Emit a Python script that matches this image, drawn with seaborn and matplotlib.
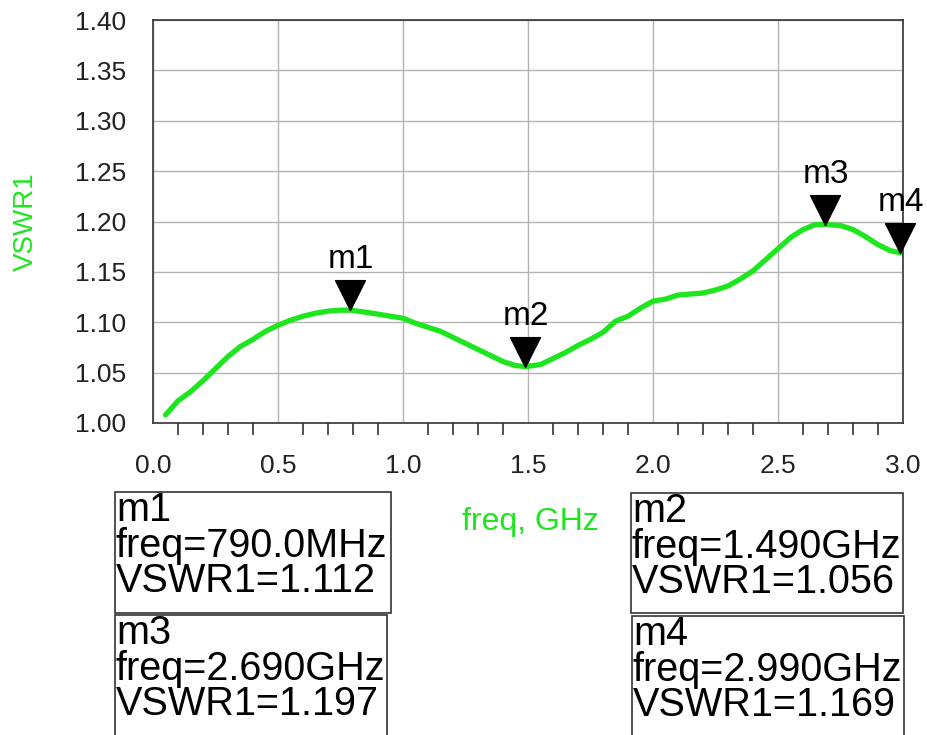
import seaborn as sns
import matplotlib.pyplot as plt
import matplotlib.patches as patches
import pandas as pd
from matplotlib.ticker import MultipleLocator

# --- data ---
freq = [0.05, 0.10, 0.15, 0.20, 0.25, 0.30, 0.35, 0.40, 0.45, 0.50,
        0.55, 0.60, 0.65, 0.70, 0.75, 0.79, 0.85, 0.90, 0.95, 1.00,
        1.05, 1.10, 1.15, 1.20, 1.25, 1.30, 1.35, 1.40, 1.45, 1.49,
        1.55, 1.60, 1.65, 1.70, 1.75, 1.80, 1.85, 1.90, 1.95, 2.00,
        2.05, 2.10, 2.15, 2.20, 2.25, 2.30, 2.35, 2.40, 2.45, 2.50,
        2.55, 2.60, 2.65, 2.69, 2.75, 2.80, 2.85, 2.90, 2.95, 2.99]
vswr = [1.008, 1.022, 1.031, 1.042, 1.054, 1.066, 1.076, 1.083, 1.091, 1.097,
        1.102, 1.106, 1.109, 1.111, 1.112, 1.112, 1.110, 1.108, 1.106, 1.104,
        1.099, 1.095, 1.091, 1.085, 1.079, 1.073, 1.067, 1.061, 1.057, 1.056,
        1.058, 1.064, 1.070, 1.077, 1.083, 1.090, 1.101, 1.106, 1.114, 1.121,
        1.123, 1.127, 1.128, 1.129, 1.132, 1.136, 1.143, 1.151, 1.162, 1.173,
        1.184, 1.192, 1.197, 1.197, 1.196, 1.192, 1.185, 1.177, 1.171, 1.169]

marker_names = ['m1', 'm2', 'm3', 'm4']
marker_freq = [0.79, 1.49, 2.69, 2.99]
marker_vswr = [1.112, 1.056, 1.197, 1.169]
marker_freq_text = ['790.0MHz', '1.490GHz', '2.690GHz', '2.990GHz']

y_ticks = [1.00, 1.05, 1.10, 1.15, 1.20, 1.25, 1.30, 1.35, 1.40]
x_ticks = [0.0, 0.5, 1.0, 1.5, 2.0, 2.5, 3.0]

df = pd.DataFrame({'freq': freq, 'VSWR1': vswr})

sns.set_style("white")
plt.rcParams['font.family'] = ['Liberation Sans', 'DejaVu Sans']

green = '#1ee61e'
fig = plt.figure(figsize=(9.28, 7.35), dpi=100)
ax = fig.add_axes([153 / 928, 1 - 423 / 735, 750 / 928, 403 / 735])

sns.lineplot(x='freq', y='VSWR1', data=df, ax=ax, color=green, linewidth=3.8)

ax.set_xlim(0, 3.0)
ax.set_ylim(1.0, 1.4)
ax.set_xticks(x_ticks)
ax.set_xticklabels([f'{v:.1f}' for v in x_ticks])
ax.set_yticks(y_ticks)
ax.set_yticklabels([f'{v:.2f}' for v in y_ticks])
ax.xaxis.set_minor_locator(MultipleLocator(0.1))
ax.grid(True, which='major', color='#b4b4b4', linewidth=1.0)
ax.set_axisbelow(True)
for s in ax.spines.values():
    s.set_color('#333333')
    s.set_linewidth(1.2)
ax.tick_params(axis='both', which='major', direction='out', length=16.5, width=1.2,
               color='#333333', labelsize=19, labelcolor='#222222', pad=3)
ax.tick_params(axis='x', which='minor', direction='out', length=8.6, width=1.2,
               color='#333333', bottom=True)
ax.tick_params(axis='x', which='major', pad=6)

ax.set_xlabel('')
ax.set_ylabel('VSWR1', color=green, fontsize=20, labelpad=26)

# marker triangles with tip on the trace
tri = [(0, 0), (-0.5, 1), (0.5, 1), (0, 0)]
ax.plot(marker_freq, marker_vswr, linestyle='none', marker=tri, markersize=43,
        color='black', clip_on=False, zorder=5)
for name, fx, vy in zip(marker_names, marker_freq, marker_vswr):
    ax.annotate(name, (fx, vy), xytext=(0, 25), textcoords='offset points',
                ha='center', va='bottom', fontsize=24, color='black',
                annotation_clip=False)

fig.text(530 / 928, 1 - 522 / 735, 'freq, GHz', color=green, fontsize=23,
         ha='center', va='center')

# marker readout boxes (left, top, right, bottom in pixels)
boxes = [(115, 492, 391, 613), (631, 493, 903, 613),
         (115, 615, 387, 760), (632, 616, 904, 760)]
for (l, t, r, b), name, ft, vy in zip(boxes, marker_names, marker_freq_text, marker_vswr):
    rect = patches.Rectangle((l / 928, 1 - b / 735), (r - l) / 928, (b - t) / 735,
                             transform=fig.transFigure, fill=False,
                             edgecolor='#333333', linewidth=1.2)
    fig.patches.append(rect)
    fig.text((l + 1) / 928, 1 - (t - 1) / 735,
             f'{name}\nfreq={ft}\nVSWR1={vy:.3f}',
             ha='left', va='top', fontsize=28.5, linespacing=0.92, color='black')

plt.savefig('out.png', dpi=100)
